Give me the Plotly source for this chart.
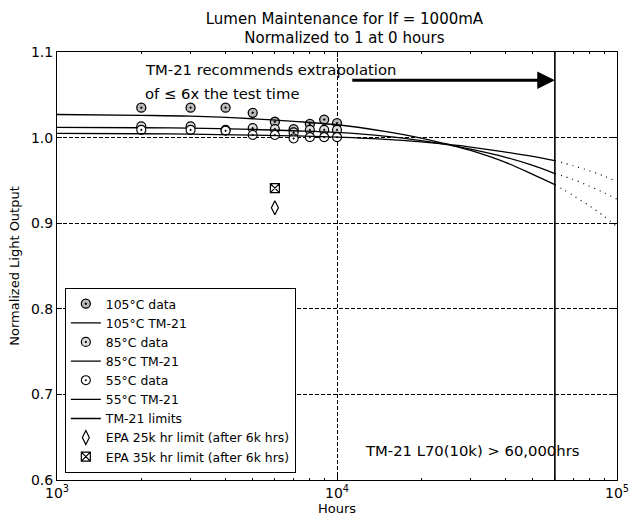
import plotly.graph_objects as go
import math

# ---------------- data ----------------
data_hours = [2000, 3000, 4000, 5000, 6000, 7000, 8000, 9000, 10000]
data_105 = [1.035, 1.035, 1.035, 1.029, 1.0185, 1.010, 1.016, 1.021, 1.017]
data_85 = [1.013, 1.013, 1.009, 1.011, 1.010, 1.006, 1.009, 1.009, 1.009]
data_55 = [1.009, 1.009, 1.008, 1.003, 1.003, 0.999, 1.0005, 1.0005, 1.0005]

fit_hours = [1000, 2000, 3000, 5000, 7000, 10000, 15000, 20000, 25000, 30000, 40000, 50000, 60000]
fit_105 = [1.027, 1.026, 1.025, 1.022, 1.019, 1.015, 1.007, 0.9995, 0.992, 0.985, 0.971, 0.957, 0.945]
fit_85 = [1.012, 1.0115, 1.011, 1.0095, 1.008, 1.006, 1.0015, 0.9965, 0.9915, 0.9865, 0.977, 0.9675, 0.958]
fit_55 = [1.005, 1.0045, 1.004, 1.003, 1.002, 1.0005, 0.998, 0.995, 0.992, 0.989, 0.983, 0.978, 0.973]

ext_hours = [60000, 70000, 80000, 90000, 100000]
ext_105 = [0.945, 0.932, 0.920, 0.908, 0.896]
ext_85 = [0.958, 0.951, 0.943, 0.9355, 0.928]
ext_55 = [0.973, 0.967, 0.961, 0.955, 0.9486]

limit_hours = [60000, 60000]
limit_values = [0.6, 1.1]

epa_hours = [6000]
epa_25k = [0.918]
epa_35k = [0.941]

x_tick_vals = [1000, 10000, 100000]
x_tick_text = ["10<sup>3</sup>", "10<sup>4</sup>", "10<sup>5</sup>"]
x_minor_vals = [2000, 3000, 4000, 5000, 6000, 7000, 8000, 9000,
                20000, 30000, 40000, 50000, 60000, 70000, 80000, 90000]

FONT = "DejaVu Sans, Verdana, sans-serif"

fig = go.Figure()

line_style = dict(color="black", width=1.3)

fig.add_trace(go.Scatter(x=data_hours, y=data_105, mode="markers", name="105°C data",
                         marker=dict(symbol="circle-dot", size=9, color="#bbbbbb",
                                     line=dict(color="black", width=1.3))))
fig.add_trace(go.Scatter(x=fit_hours, y=fit_105, mode="lines", name="105°C TM-21",
                         line=dict(shape="spline", **line_style)))
fig.add_trace(go.Scatter(x=data_hours, y=data_85, mode="markers", name="85°C data",
                         marker=dict(symbol="circle-dot", size=9, color="#dddddd",
                                     line=dict(color="black", width=1.2))))
fig.add_trace(go.Scatter(x=fit_hours, y=fit_85, mode="lines", name="85°C TM-21",
                         line=dict(shape="spline", **line_style)))
fig.add_trace(go.Scatter(x=data_hours, y=data_55, mode="markers", name="55°C data",
                         marker=dict(symbol="circle-dot", size=9, color="white",
                                     line=dict(color="black", width=1.1))))
fig.add_trace(go.Scatter(x=fit_hours, y=fit_55, mode="lines", name="55°C TM-21",
                         line=dict(shape="spline", **line_style)))
fig.add_trace(go.Scatter(x=limit_hours, y=limit_values, mode="lines", name="TM-21 limits",
                         line=dict(color="black", width=1.6)))
fig.add_trace(go.Scatter(x=epa_hours, y=epa_25k, mode="markers", name="EPA 25k hr limit (after 6k hrs)",
                         marker=dict(symbol="diamond-tall-open", size=10, color="black",
                                     line=dict(width=1.2))))
fig.add_trace(go.Scatter(x=epa_hours, y=epa_35k, mode="markers", name="EPA 35k hr limit (after 6k hrs)",
                         marker=dict(symbol="square-x-open", size=9, color="black",
                                     line=dict(width=1.2))))

for ys in (ext_105, ext_85, ext_55):
    fig.add_trace(go.Scatter(x=ext_hours, y=ys, mode="lines", showlegend=False,
                             line=dict(color="black", width=1.2, dash="1px,5px", shape="spline")))

# annotations
fig.add_annotation(x=math.log10(2030), y=1.079, xref="x", yref="y", text="TM-21 recommends extrapolation",
                   showarrow=False, xanchor="left", yanchor="middle",
                   font=dict(family=FONT, size=14.8, color="black"))
fig.add_annotation(x=math.log10(2030), y=1.051, xref="x", yref="y", text="of ≤ 6x the test time",
                   showarrow=False, xanchor="left", yanchor="middle",
                   font=dict(family=FONT, size=14.8, color="black"))
fig.add_annotation(x=math.log10(60000), y=1.067, ax=math.log10(11200), ay=1.067,
                   xref="x", yref="y", axref="x", ayref="y", text="",
                   showarrow=True, arrowhead=2, arrowsize=1.1, arrowwidth=3.2, arrowcolor="black",
                   standoff=0, startstandoff=0)
fig.add_annotation(x=math.log10(30300), y=0.635, xref="x", yref="y", text="TM-21 L70(10k) > 60,000hrs",
                   showarrow=False, xanchor="center", yanchor="middle",
                   font=dict(family=FONT, size=14.8, color="black"))

axis_common = dict(showline=True, linecolor="black", linewidth=1, mirror="allticks",
                   ticks="inside", tickcolor="black", ticklen=5, showgrid=True,
                   gridcolor="black", gridwidth=0.8, griddash="4px,2px", zeroline=False,
                   automargin=False,
                   tickfont=dict(family=FONT, size=14, color="black"))

fig.update_xaxes(type="log", range=[3, 5], tickvals=x_tick_vals, ticktext=x_tick_text,
                 minor=dict(ticks="inside", ticklen=2, tickcolor="black", showgrid=False,
                            tickvals=x_minor_vals),
                 title=dict(text="Hours", font=dict(family=FONT, size=13, color="black"), standoff=2),
                 **axis_common)
fig.update_yaxes(range=[0.6, 1.1], dtick=0.1, tickformat=".1f",
                 title=dict(text="Normalized Light Output", font=dict(family=FONT, size=13, color="black"), standoff=8),
                 **axis_common)

fig.update_layout(
    width=632, height=520,
    margin=dict(l=57, r=15, t=52, b=40, autoexpand=False),
    paper_bgcolor="white", plot_bgcolor="white",
    title=dict(text="Lumen Maintenance for If = 1000mA<br>Normalized to 1 at 0 hours",
               x=0.545, xanchor="center", y=0.954, yanchor="top",
               font=dict(family=FONT, size=15, color="black")),
    legend=dict(x=0.014, y=0.016, xanchor="left", yanchor="bottom",
                bgcolor="white", bordercolor="black", borderwidth=1,
                font=dict(family=FONT, size=12.4, color="black"), tracegroupgap=0),
    showlegend=True,
)

# place the figure at the very top-left corner of the window (no page margin, no scrollbars)
fig.write_html("out.html", config={"displayModeBar": False},
               post_script="document.body.style.margin='0';document.body.style.overflow='hidden';")
